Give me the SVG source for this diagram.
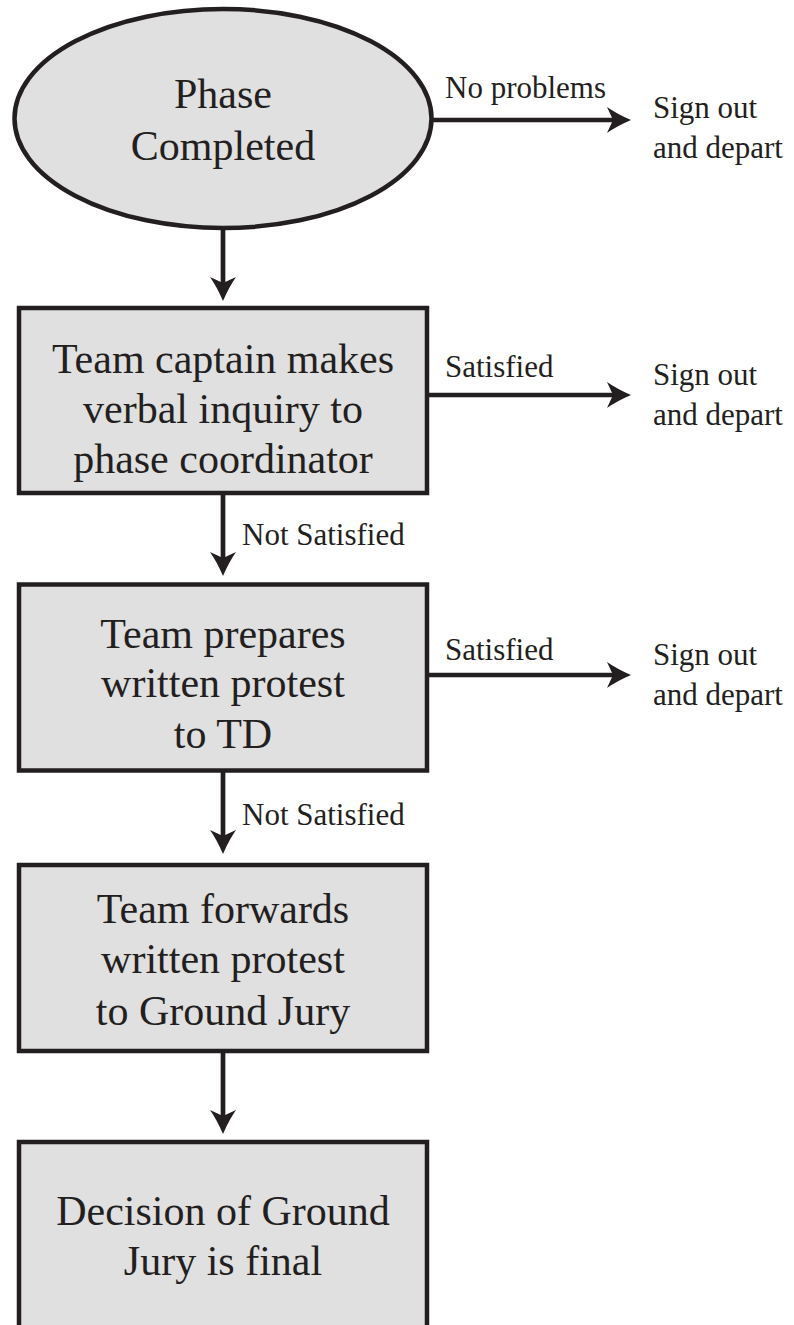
<svg xmlns="http://www.w3.org/2000/svg" width="794" height="1325" viewBox="0 0 794 1325">
<style>
.node{fill:#e0e0e0;stroke:#231f20;stroke-width:4.5}
.big{font-family:"Liberation Serif","Times New Roman",serif;font-size:42px;fill:#231f20;text-anchor:middle}
.lbl{font-family:"Liberation Serif","Times New Roman",serif;font-size:31px;fill:#231f20}
.edge{stroke:#231f20;stroke-width:4.7;fill:none;marker-end:url(#ah)}
</style>
<defs>
<marker id="ah" markerUnits="userSpaceOnUse" viewBox="0 0 24 26" markerWidth="24" markerHeight="26" refX="7" refY="13" orient="auto">
<path d="M0,0 Q10,7 24,13 Q10,19 0,26 L6,13 z" fill="#231f20"/>
</marker>
</defs>
<rect width="794" height="1325" fill="#ffffff"/>
<g id="connectors">
<line class="edge" x1="223" y1="228" x2="223" y2="284"/>
<line class="edge" x1="223" y1="493" x2="223" y2="559"/>
<line class="edge" x1="223" y1="771" x2="223" y2="837"/>
<line class="edge" x1="223" y1="1051" x2="223" y2="1117"/>
<line class="edge" x1="432" y1="120" x2="614" y2="120"/>
<line class="edge" x1="427" y1="395" x2="614" y2="395"/>
<line class="edge" x1="427" y1="675" x2="614" y2="675"/>
<text class="lbl" x="445" y="98">No problems</text>
<text class="lbl" x="445" y="377">Satisfied</text>
<text class="lbl" x="445" y="660">Satisfied</text>
<text class="lbl" x="242" y="545">Not Satisfied</text>
<text class="lbl" x="242" y="825">Not Satisfied</text>
</g>
<g id="start">
<ellipse class="node" cx="223" cy="118.5" rx="208.5" ry="109.5"/>
<text class="big" x="223" y="108">Phase</text>
<text class="big" x="223" y="160">Completed</text>
</g>
<g id="inquiry">
<rect class="node" x="19" y="308" width="408" height="185"/>
<text class="big" x="223" y="373">Team captain makes</text>
<text class="big" x="223" y="423">verbal inquiry to</text>
<text class="big" x="223" y="473">phase coordinator</text>
</g>
<g id="protest">
<rect class="node" x="19" y="584.5" width="408" height="186"/>
<text class="big" x="223" y="648">Team prepares</text>
<text class="big" x="223" y="697">written protest</text>
<text class="big" x="223" y="748">to TD</text>
</g>
<g id="forward">
<rect class="node" x="19" y="865" width="408" height="186"/>
<text class="big" x="223" y="923">Team forwards</text>
<text class="big" x="223" y="973">written protest</text>
<text class="big" x="223" y="1025">to Ground Jury</text>
</g>
<g id="decision">
<rect class="node" x="19" y="1142" width="408" height="200"/>
<text class="big" x="223" y="1225">Decision of Ground</text>
<text class="big" x="223" y="1275">Jury is final</text>
</g>
<g id="signout1">
<text class="lbl" x="653" y="118">Sign out</text>
<text class="lbl" x="653" y="158">and depart</text>
</g>
<g id="signout2">
<text class="lbl" x="653" y="385">Sign out</text>
<text class="lbl" x="653" y="425">and depart</text>
</g>
<g id="signout3">
<text class="lbl" x="653" y="665">Sign out</text>
<text class="lbl" x="653" y="705">and depart</text>
</g>
</svg>
